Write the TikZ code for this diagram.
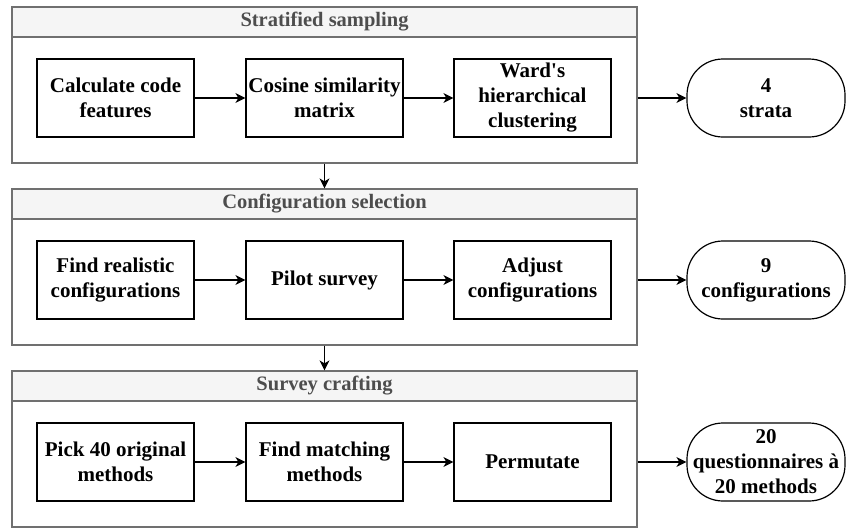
\documentclass[tikz,border=0pt]{standalone}
\usepackage{fontspec}
\setmainfont{Liberation Serif}
\usepackage{tikz}
\usetikzlibrary{calc,arrows.meta}

\definecolor{framegray}{HTML}{707070}
\definecolor{headfill}{HTML}{F5F5F5}
\definecolor{headtext}{HTML}{4D4D4D}

\tikzset{
  stage/.style={draw=framegray,line width=1.2pt,minimum width=625pt,minimum height=156pt,inner sep=0pt},
  stagehead/.style={draw=framegray,fill=headfill,line width=1.2pt,minimum width=625pt,minimum height=30pt,inner sep=0pt,
    text=headtext,font=\fontsize{20.5}{24}\selectfont\bfseries},
  stepbox/.style={draw,line width=1.2pt,minimum width=157pt,minimum height=78pt,inner sep=2pt,align=center,
    font=\fontsize{21}{25}\selectfont\bfseries},
  result/.style={draw,line width=1.2pt,rounded corners=36pt,minimum width=158pt,minimum height=78pt,inner sep=0pt,align=center,
    font=\fontsize{21}{25}\selectfont\bfseries},
  flow/.style={-{Stealth[length=10pt,width=10pt,inset=3pt]},line width=1.2pt}
}

\begin{document}
\begin{tikzpicture}[x=1pt,y=-1pt]
              \useasboundingbox (0,0) rectangle (846,528);
              % stage frames
              \node[stage](s1)at(324.5,85){};
              \node[stage](s2)at(324.5,267){};
              \node[stage](s3)at(324.5,449){};
              \node[stagehead,anchor=north](h1)at(s1.north){Stratified sampling};
              \node[stagehead,anchor=north](h2)at(s2.north){Configuration selection};
              \node[stagehead,anchor=north](h3)at(s3.north){Survey crafting};
              % stratified sampling
              \node[stepbox](a1)at(115.5,98){Calculate code\\features};
              \node[stepbox](a2)at(324.5,98){Cosine similarity\\matrix};
              \node[stepbox](a3)at(532.5,98){Ward\textquotesingle s\\hierarchical\\clustering};
              \node[result](r1)at(766,98){4\\strata};
              % configuration selection
              \node[stepbox](b1)at(115.5,280){Find realistic\\configurations};
              \node[stepbox](b2)at(324.5,280){Pilot survey};
              \node[stepbox](b3)at(532.5,280){Adjust\\configurations};
              \node[result](r2)at(766,280){9\\configurations};
              % survey crafting
              \node[stepbox](c1)at(115.5,462){Pick 40 original\\methods};
              \node[stepbox](c2)at(324.5,462){Find matching\\methods};
              \node[stepbox](c3)at(532.5,462){Permutate};
              \node[result](r3)at(766,462){20\\questionnaires à\\20 methods};
              % connectors
              \draw[flow] (a1)--(a2);
              \draw[flow] (a2)--(a3);
              \draw[flow] (a3.east-|s1.east)--(r1);
              \draw[flow] (b1)--(b2);
              \draw[flow] (b2)--(b3);
              \draw[flow] (b3.east-|s2.east)--(r2);
              \draw[flow] (c1)--(c2);
              \draw[flow] (c2)--(c3);
              \draw[flow] (c3.east-|s3.east)--(r3);
              \draw[flow] (s1)--(h2);
              \draw[flow] (s2)--(h3);
            \end{tikzpicture}
\end{document}
